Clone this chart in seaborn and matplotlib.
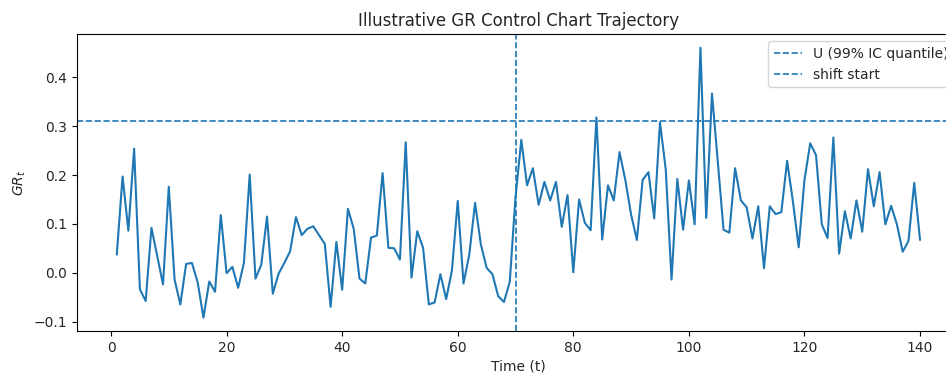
import matplotlib
matplotlib.use("Agg")
import matplotlib.pyplot as plt
import seaborn as sns
import numpy as np
import pandas as pd

sns.set_style("white")
plt.rcParams['font.family'] = ['DejaVu Sans']
plt.rcParams['axes.edgecolor'] = 'black'
plt.rcParams['xtick.bottom'] = True
plt.rcParams['ytick.left'] = True

time = list(range(1, 141))
gr = [
    0.037, 0.197, 0.086, 0.254, -0.034, -0.058, 0.092, 0.034, -0.024, 0.176,
    -0.014, -0.065, 0.018, 0.020, -0.020, -0.092, -0.018, -0.039, 0.118, -0.001,
    0.012, -0.031, 0.020, 0.201, -0.012, 0.016, 0.115, -0.043, -0.002, 0.020,
    0.044, 0.114, 0.077, 0.090, 0.095, 0.077, 0.059, -0.070, 0.063, -0.035,
    0.131, 0.090, -0.012, -0.022, 0.072, 0.076, 0.204, 0.051, 0.050, 0.027,
    0.267, -0.010, 0.085, 0.051, -0.065, -0.061, -0.003, -0.054, 0.005, 0.147,
    -0.022, 0.037, 0.143, 0.058, 0.010, -0.003, -0.048, -0.060, -0.019, 0.155,
    0.272, 0.179, 0.214, 0.139, 0.186, 0.148, 0.186, 0.094, 0.159, 0.001,
    0.150, 0.102, 0.087, 0.318, 0.068, 0.179, 0.148, 0.247, 0.190, 0.119,
    0.067, 0.190, 0.206, 0.111, 0.308, 0.211, -0.014, 0.192, 0.088, 0.189,
    0.099, 0.461, 0.112, 0.367, 0.227, 0.088, 0.082, 0.214, 0.148, 0.134,
    0.070, 0.136, 0.009, 0.136, 0.120, 0.124, 0.229, 0.146, 0.052, 0.190,
    0.265, 0.241, 0.099, 0.071, 0.277, 0.039, 0.126, 0.070, 0.148, 0.084,
    0.212, 0.136, 0.206, 0.099, 0.137, 0.099, 0.043, 0.065, 0.184, 0.067,
]
upper_limit = 0.31
shift_start = 70

df = pd.DataFrame({"Time (t)": time, "GR": gr})

fig = plt.figure(figsize=(9.46, 3.75), dpi=100)
ax = fig.add_axes([0.081, 0.117, 0.934, 0.792])

sns.lineplot(data=df, x="Time (t)", y="GR", ax=ax, color="C0", linewidth=1.5)
ax.axhline(upper_limit, linestyle="--", color="C0", linewidth=1.2, label="U (99% IC quantile)")
ax.axvline(shift_start, linestyle="--", color="C0", linewidth=1.2, label="shift start")

ax.set_title("Illustrative GR Control Chart Trajectory", fontsize=12)
ax.set_xlabel("Time (t)", fontsize=10, labelpad=3)
ax.set_ylabel(r"$GR_t$", fontsize=10)
ax.tick_params(axis="both", labelsize=10, length=3.5, width=0.8, color="black")
for s in ax.spines.values():
    s.set_linewidth(0.8)
ax.set_xticks([0, 20, 40, 60, 80, 100, 120, 140])
ax.set_yticks([-0.1, 0.0, 0.1, 0.2, 0.3, 0.4])
ax.legend(loc="upper right", fontsize=10, bbox_to_anchor=(1.0 + 0.5 / 884, 1.0))

fig.savefig("out.png", dpi=100)
